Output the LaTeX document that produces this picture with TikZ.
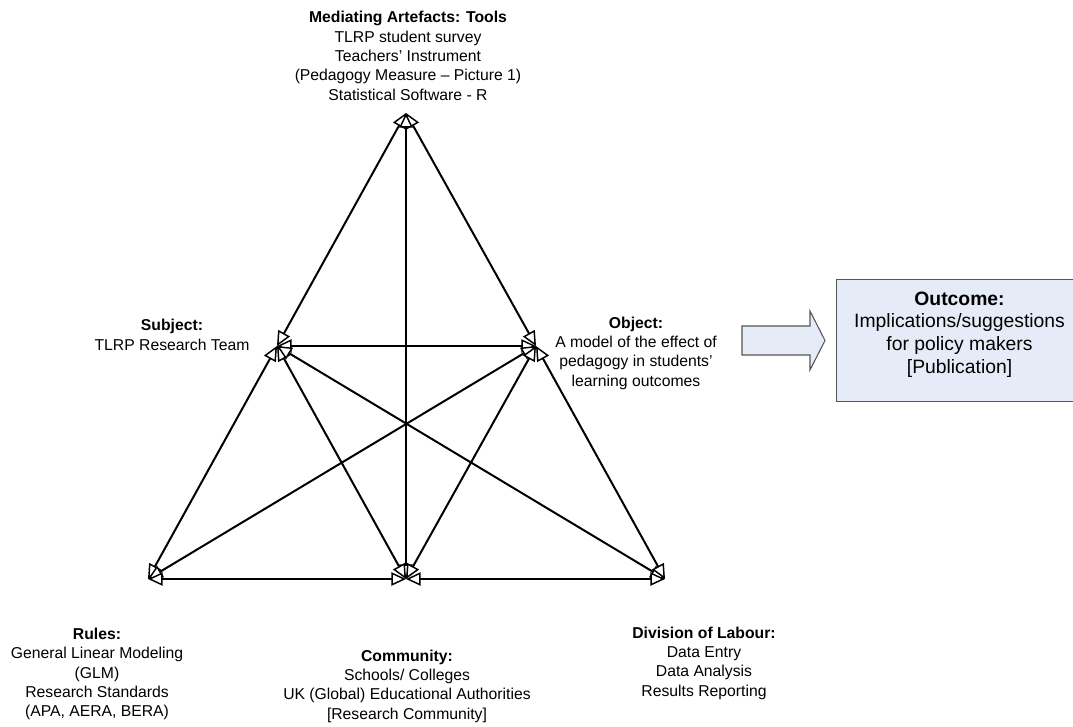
\documentclass[tikz,border=0pt]{standalone}
\usepackage{fontspec}
\setmainfont{Liberation Sans}
\usetikzlibrary{arrows.meta}

\definecolor{boxfill}{RGB}{230,236,247}
\definecolor{boxline}{RGB}{85,85,85}

\begin{document}
\begin{tikzpicture}[
	x=0.75pt, y=-0.75pt,
	lbl/.style={align=center, inner sep=0pt, font=\fontsize{11.8}{14.5}\selectfont},
	link/.style={line width=1.5pt, {Triangle[fill=white, length=11pt, width=10pt, line width=1.1pt]}-{Triangle[fill=white, length=11pt, width=10pt, line width=1.1pt]}},
	outbox/.style={rectangle, draw=boxline, fill=boxfill, line width=0.8pt},
	outtext/.style={align=center, inner sep=0pt, font=\fontsize{14.5}{17}\selectfont},
]
	\useasboundingbox (0,0) rectangle (1073,727);

	% corners of the activity triangle
	\coordinate (tools) at (406,113);
	\coordinate (subj) at (277,346);
	\coordinate (obj) at (536,346);
	\coordinate (rules) at (148,579);
	\coordinate (comm) at (406,579);
	\coordinate (div) at (665,579);

	% labels
	\node[lbl] (toolslbl) at (408,56) {\textbf{Mediating Artefacts: Tools}\\TLRP student survey\\Teachers’ Instrument\\(Pedagogy Measure – Picture 1)\\Statistical Software - R};
	\node[lbl] (subjlbl) at (172,335) {\textbf{Subject:}\\TLRP Research Team};
	\node[lbl] (objlbl) at (636,353) {\textbf{Object:}\\A model of the effect of\\pedagogy in students’\\learning outcomes};
	\node[lbl] (ruleslbl) at (97,674) {\textbf{Rules:}\\General Linear Modeling\\(GLM)\\Research Standards\\(APA, AERA, BERA)};
	\node[lbl] (commlbl) at (407,686) {\textbf{Community:}\\Schools/ Colleges\\UK (Global) Educational Authorities\\{[Research Community]}};
	\node[lbl] (divlbl) at (704,663) {\textbf{Division of Labour:}\\Data Entry\\Data Analysis\\Results Reporting};

	% links between the corners
	\draw[link] (tools) -- (subj);
	\draw[link] (tools) -- (obj);
	\draw[link] (tools) -- (comm);
	\draw[link] (subj) -- (obj);
	\draw[link] (subj) -- (rules);
	\draw[link] (subj) -- (comm);
	\draw[link] (subj) -- (div);
	\draw[link] (obj) -- (rules);
	\draw[link] (obj) -- (comm);
	\draw[link] (obj) -- (div);
	\draw[link] (rules) -- (comm);
	\draw[link] (comm) -- (div);

	% outcome
	\node[outbox, minimum width=250*0.75pt, minimum height=122*0.75pt, anchor=north west] (outbox) at (836,279) {};
	\node[outtext] (outcome) at ([xshift=-2*0.75pt, yshift=6*0.75pt]outbox.center) {\textbf{Outcome:}\\Implications/suggestions\\for policy makers\\{[Publication]}};
	\draw[boxline, fill=boxfill, line width=0.8pt] (742,326) -- (810,326) -- (810,311) -- (825,340.5) -- (810,370) -- (810,355) -- (742,355) -- cycle;
\end{tikzpicture}
\end{document}
